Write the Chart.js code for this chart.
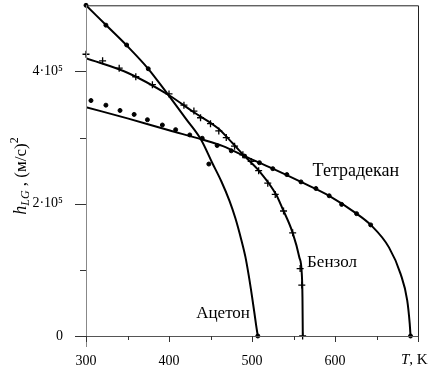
<!DOCTYPE html>
<html>
<head>
<meta charset="utf-8">
<script src="https://cdn.jsdelivr.net/npm/chart.js@4"></script>
<style>html,body{margin:0;padding:0;background:#fff}</style>
</head>
<body>
<canvas id="chart" width="432" height="374"></canvas>
<script>
// fitted curves (T in K, h in (m/s)^2)
const acetoneLineT = [300, 325, 350, 375, 400, 420, 439, 452, 463, 473, 480, 487, 492, 496, 500, 503, 505, 507];
const acetoneLineH = [5.00e5, 4.69e5, 4.38e5, 4.04e5, 3.63e5, 3.29e5, 2.96e5, 2.62e5, 2.34e5, 2.04e5, 1.78e5, 1.46e5, 1.20e5, 0.92e5, 0.60e5, 0.34e5, 0.16e5, 0];
const benzeneLineT = [300, 350, 400, 429, 459, 477, 491, 509, 529, 537, 549, 557, 560, 560.8, 561.2];
const benzeneLineH = [4.20e5, 3.98e5, 3.64e5, 3.39e5, 3.14e5, 2.91e5, 2.72e5, 2.49e5, 2.14e5, 1.92e5, 1.56e5, 1.19e5, 0.94e5, 0.59e5, 0];
const tetraLineT = [300, 350, 400, 440, 465, 491, 525, 559, 593, 626, 643, 665, 679, 687, 690, 691];
const tetraLineH = [3.46e5, 3.29e5, 3.11e5, 2.97e5, 2.87e5, 2.72e5, 2.53e5, 2.33e5, 2.12e5, 1.85e5, 1.68e5, 1.34e5, 0.94e5, 0.54e5, 0.19e5, 0];

// measured points
const acetonePtsT = [300, 324, 349, 375, 448, 507];
const acetonePtsH = [5.00e5, 4.70e5, 4.40e5, 4.04e5, 2.60e5, 0];
const benzenePtsT = [300, 320, 340, 360, 380, 400, 418, 430, 438, 450, 460, 469, 479, 489, 499, 508, 519, 528, 538, 549, 558, 560, 561];
const benzenePtsH = [4.26e5, 4.16e5, 4.05e5, 3.92e5, 3.80e5, 3.66e5, 3.49e5, 3.40e5, 3.30e5, 3.21e5, 3.10e5, 3.00e5, 2.87e5, 2.74e5, 2.64e5, 2.50e5, 2.31e5, 2.14e5, 1.89e5, 1.56e5, 1.02e5, 0.77e5, 0];
const tetraPtsT = [306, 324, 341, 358, 374, 392, 408, 425, 440, 458, 475, 491, 509, 525, 542, 559, 577, 593, 608, 626, 643, 691];
const tetraPtsH = [3.56e5, 3.49e5, 3.41e5, 3.35e5, 3.27e5, 3.19e5, 3.12e5, 3.04e5, 2.99e5, 2.88e5, 2.80e5, 2.72e5, 2.62e5, 2.53e5, 2.44e5, 2.33e5, 2.23e5, 2.12e5, 1.99e5, 1.85e5, 1.68e5, 0];

const xTicks = [300, 400, 500, 600, 700];
const xTickLabels = ['300', '400', '500', '600', ''];
const xMinorTicks = [350, 450, 550, 650];
const yTicks = [0, 2e5, 4e5];
const yTickLabels = ['0', '2·10⁵', '4·10⁵'];
const yMinorTicks = [1e5, 3e5];
const seriesNames = ['Ацетон', 'Бензол', 'Тетрадекан'];

const zip = (xs, ys) => xs.map((x, i) => ({x: x, y: ys[i]}));
const serif = '"Liberation Serif", "DejaVu Serif", serif';

function curve(t, h) {
    return {data: zip(t, h), showLine: true, pointRadius: 0, borderColor: '#000',
        borderWidth: 2, cubicInterpolationMode: 'monotone', fill: false};
}
function marks(t, h, style, r, bw) {
    return {data: zip(t, h), showLine: false, pointStyle: style, pointRadius: r, clip: false,
        backgroundColor: '#000', borderColor: '#000', borderWidth: bw};
}

const decor = {
    id: 'decor',
    afterDraw(chart) {
        const ctx = chart.ctx;
        const a = chart.chartArea;
        const xs = chart.scales.x, ys = chart.scales.y;
        ctx.save();
        ctx.lineWidth = 1;
        // frame
        ctx.strokeStyle = '#222';
        ctx.beginPath();
        ctx.moveTo(a.left, a.top + 0.5); ctx.lineTo(a.right + 0.5, a.top + 0.5);
        ctx.lineTo(a.right + 0.5, a.bottom);
        ctx.stroke();
        ctx.strokeStyle = '#555';
        ctx.beginPath();
        ctx.moveTo(a.left - 11, a.bottom + 0.5); ctx.lineTo(a.right + 0.5, a.bottom + 0.5);
        ctx.stroke();
        ctx.strokeStyle = '#888';
        ctx.beginPath();
        ctx.moveTo(a.left + 0.5, a.top); ctx.lineTo(a.left + 0.5, a.bottom + 11);
        ctx.stroke();
        // ticks
        ctx.strokeStyle = '#333';
        ctx.beginPath();
        xTicks.forEach(v => { const p = Math.round(xs.getPixelForValue(v)) + 0.5; ctx.moveTo(p, a.bottom); ctx.lineTo(p, a.bottom + 6); });
        xMinorTicks.forEach(v => { const p = Math.round(xs.getPixelForValue(v)) + 0.5; ctx.moveTo(p, a.bottom); ctx.lineTo(p, a.bottom + 4); });
        yTicks.forEach(v => { const p = Math.round(ys.getPixelForValue(v)) + 0.5; ctx.moveTo(a.left - 11, p); ctx.lineTo(a.left, p); });
        yMinorTicks.forEach(v => { const p = Math.round(ys.getPixelForValue(v)) + 0.5; ctx.moveTo(a.left - 6, p); ctx.lineTo(a.left, p); });
        ctx.stroke();

        ctx.fillStyle = '#000';
        // series names
        ctx.textBaseline = 'middle';
        ctx.textAlign = 'left';
        ctx.font = '17px ' + serif;
        ctx.fillText(seriesNames[0], xs.getPixelForValue(432.8), ys.getPixelForValue(0.345e5));
        ctx.fillText(seriesNames[1], xs.getPixelForValue(566.4), ys.getPixelForValue(1.11e5));
        ctx.font = '18px ' + serif;
        ctx.fillText(seriesNames[2], xs.getPixelForValue(573), ys.getPixelForValue(2.49e5));

        // x axis title: T, K
        let x = xs.getPixelForValue(700) - 17, y = a.bottom + 24;
        ctx.font = 'italic 15px ' + serif;
        ctx.fillText('T', x, y);
        x += ctx.measureText('T').width;
        ctx.font = '15px ' + serif;
        ctx.fillText(', K', x, y);

        // y axis title: h_LG , (м/с)^2
        ctx.translate(26, 176);
        ctx.rotate(-Math.PI / 2);
        ctx.textBaseline = 'alphabetic';
        const parts = [
            ['italic 18px ', 'h', 0],
            ['italic 12px ', 'LG', 3],
            ['17px ', ' , (м/с)', 0],
            ['12px ', '2', -8]
        ];
        let w = 0;
        parts.forEach(p => { ctx.font = p[0] + serif; w += ctx.measureText(p[1]).width; });
        let cx = -w / 2;
        parts.forEach(p => {
            ctx.font = p[0] + serif;
            ctx.fillText(p[1], cx, p[2]);
            cx += ctx.measureText(p[1]).width;
        });
        ctx.restore();
    }
};

new Chart(document.getElementById('chart'), {
    type: 'line',
    data: {
        datasets: [
            curve(acetoneLineT, acetoneLineH),
            curve(benzeneLineT, benzeneLineH),
            curve(tetraLineT, tetraLineH),
            marks(acetonePtsT, acetonePtsH, 'circle', 2, 1),
            marks(benzenePtsT, benzenePtsH, 'cross', 3.5, 1.3),
            marks(tetraPtsT, tetraPtsH, 'circle', 2, 1)
        ]
    },
    options: {
        responsive: false,
        devicePixelRatio: 1,
        animation: false,
        layout: {padding: {top: 3, right: 14, left: 0, bottom: 0}},
        plugins: {legend: {display: false}, tooltip: {enabled: false}},
        scales: {
            x: {
                type: 'linear', min: 300, max: 700,
                grid: {display: false}, border: {display: false},
                afterBuildTicks: s => { s.ticks = xTicks.map(v => ({value: v})); },
                afterFit: s => { s.height = 38; s.paddingLeft = 0; s.paddingRight = 0; },
                ticks: {
                    padding: 9, color: '#000', font: {family: serif, size: 14},
                    maxRotation: 0, autoSkip: false,
                    callback: (v) => xTickLabels[xTicks.indexOf(v)]
                }
            },
            y: {
                type: 'linear', min: 0, max: 5e5,
                grid: {display: false}, border: {display: false},
                afterBuildTicks: s => { s.ticks = yTicks.map(v => ({value: v})); },
                afterFit: s => { s.width = 86; s.paddingTop = 0; s.paddingBottom = 0; },
                ticks: {
                    padding: 15, color: '#000', font: {family: serif, size: 14},
                    autoSkip: false,
                    callback: (v) => yTickLabels[yTicks.indexOf(v)]
                }
            }
        }
    },
    plugins: [decor]
});
</script>
</body>
</html>
